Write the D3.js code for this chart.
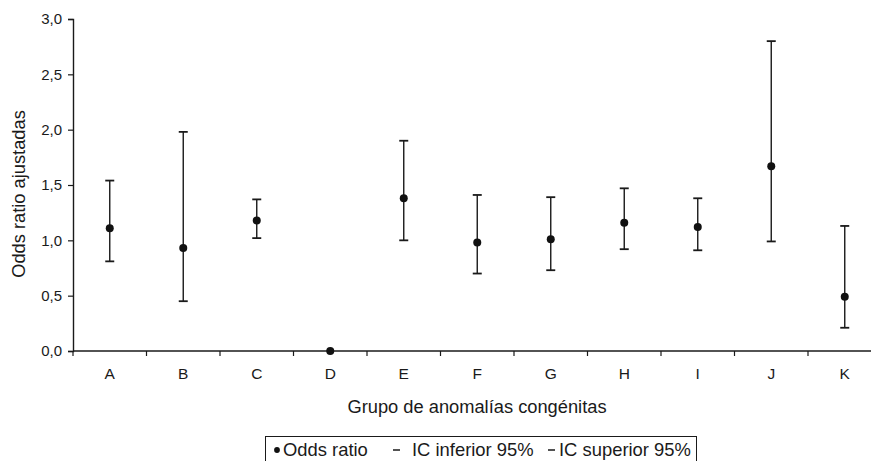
<!DOCTYPE html>
<html>
<head>
<meta charset="utf-8">
<script src="https://cdn.jsdelivr.net/npm/d3@7"></script>
<style>
  html, body { margin: 0; padding: 0; background: #fff; }
  svg { display: block; font-family: "Liberation Sans", Arial, sans-serif; }
</style>
</head>
<body>
<svg id="chart" width="871" height="461"></svg>
<script>
// Adjusted odds ratios with 95% confidence intervals per congenital anomaly group
const categories = ["A", "B", "C", "D", "E", "F", "G", "H", "I", "J", "K"];
const oddsRatio  = [1.11, 0.93, 1.18, 0.00, 1.38, 0.98, 1.01, 1.16, 1.12, 1.67, 0.49];
const icInferior = [0.81, 0.45, 1.02, 0.00, 1.00, 0.70, 0.73, 0.92, 0.91, 0.99, 0.21];
const icSuperior = [1.54, 1.98, 1.37, 0.00, 1.90, 1.41, 1.39, 1.47, 1.38, 2.80, 1.13];
const yTicks = [0, 0.5, 1.0, 1.5, 2.0, 2.5, 3.0];

const svg = d3.select("#chart");
const ink = "#1a1a1a";

const plotLeft = 73, plotRight = 881.5, plotTop = 19, plotBottom = 351;

const x = d3.scaleBand().domain(categories).range([plotLeft, plotRight]).paddingInner(0).paddingOuter(0);
const y = d3.scaleLinear().domain([0, 3]).range([plotBottom, plotTop]);

const fmt = d => d3.format(".1f")(d).replace(".", ",");

// Y axis
const yAxis = svg.append("g")
  .attr("transform", `translate(${plotLeft},0)`)
  .call(d3.axisLeft(y).tickValues(yTicks).tickFormat(fmt).tickSizeOuter(0).tickSize(5).tickPadding(6));
yAxis.select(".domain").attr("stroke", ink).attr("stroke-width", 1.4);
yAxis.selectAll(".tick line").attr("stroke", ink).attr("stroke-width", 1.2);
yAxis.selectAll(".tick text").attr("font-size", 15).attr("fill", ink)
  .attr("font-family", "Liberation Sans, Arial, sans-serif");

// X axis: ticks at band boundaries, labels at band centres
const xg = svg.append("g").attr("transform", `translate(0,${plotBottom})`);
xg.append("line").attr("x1", plotLeft).attr("x2", plotRight).attr("stroke", ink).attr("stroke-width", 1.4);
const boundaries = categories.map(c => x(c)).concat([x(categories[categories.length - 1]) + x.bandwidth()]);
xg.selectAll("line.tk").data(boundaries).join("line").attr("class", "tk")
  .attr("x1", d => d).attr("x2", d => d).attr("y1", 0).attr("y2", 5)
  .attr("stroke", ink).attr("stroke-width", 1.2);
xg.selectAll("text").data(categories).join("text")
  .attr("x", d => x(d) + x.bandwidth() / 2).attr("y", 28)
  .attr("text-anchor", "middle").attr("font-size", 15.5).attr("fill", ink).text(d => d);

// Axis titles
svg.append("text")
  .attr("transform", `translate(25,${(plotTop + plotBottom) / 2 + 9}) rotate(-90)`)
  .attr("text-anchor", "middle").attr("font-size", 18.3).attr("fill", ink)
  .text("Odds ratio ajustadas");
svg.append("text")
  .attr("x", 477).attr("y", 413)
  .attr("text-anchor", "middle").attr("font-size", 18.3).attr("fill", ink)
  .text("Grupo de anomalías congénitas");

// Error bars and points
const rows = categories.map((c, i) => ({ c, or: oddsRatio[i], lo: icInferior[i], hi: icSuperior[i] }));
const cx = d => x(d.c) + x.bandwidth() / 2;
const capW = 4.5;
const bars = svg.append("g");
const withCI = rows.filter(d => d.hi > d.lo);
bars.selectAll("line.v").data(withCI).join("line").attr("class", "v")
  .attr("x1", cx).attr("x2", cx).attr("y1", d => y(d.lo)).attr("y2", d => y(d.hi))
  .attr("stroke", ink).attr("stroke-width", 1.4);
bars.selectAll("line.lo").data(withCI).join("line").attr("class", "lo")
  .attr("x1", d => cx(d) - capW).attr("x2", d => cx(d) + capW)
  .attr("y1", d => y(d.lo)).attr("y2", d => y(d.lo))
  .attr("stroke", ink).attr("stroke-width", 1.8);
bars.selectAll("line.hi").data(withCI).join("line").attr("class", "hi")
  .attr("x1", d => cx(d) - capW).attr("x2", d => cx(d) + capW)
  .attr("y1", d => y(d.hi)).attr("y2", d => y(d.hi))
  .attr("stroke", ink).attr("stroke-width", 1.8);
bars.selectAll("circle").data(rows).join("circle")
  .attr("cx", cx).attr("cy", d => y(d.or)).attr("r", 4).attr("fill", "#111");

// Legend
const lg = svg.append("g");
const legY = 456;
lg.append("rect").attr("x", 265.5).attr("y", 436.5).attr("width", 431).attr("height", 30)
  .attr("fill", "none").attr("stroke", ink).attr("stroke-width", 1);
lg.append("circle").attr("cx", 277).attr("cy", legY - 6).attr("r", 2.9).attr("fill", "#111");
lg.append("text").attr("x", 283).attr("y", legY).attr("font-size", 18.4).attr("fill", ink).text("Odds ratio");
lg.append("line").attr("x1", 393).attr("x2", 400).attr("y1", legY - 6).attr("y2", legY - 6).attr("stroke", ink).attr("stroke-width", 1.5);
lg.append("text").attr("x", 412).attr("y", legY).attr("font-size", 18.4).attr("fill", ink).text("IC inferior 95%");
lg.append("line").attr("x1", 548).attr("x2", 555).attr("y1", legY - 6).attr("y2", legY - 6).attr("stroke", ink).attr("stroke-width", 1.5);
lg.append("text").attr("x", 559).attr("y", legY).attr("font-size", 18.4).attr("fill", ink).text("IC superior 95%");
</script>
</body>
</html>
